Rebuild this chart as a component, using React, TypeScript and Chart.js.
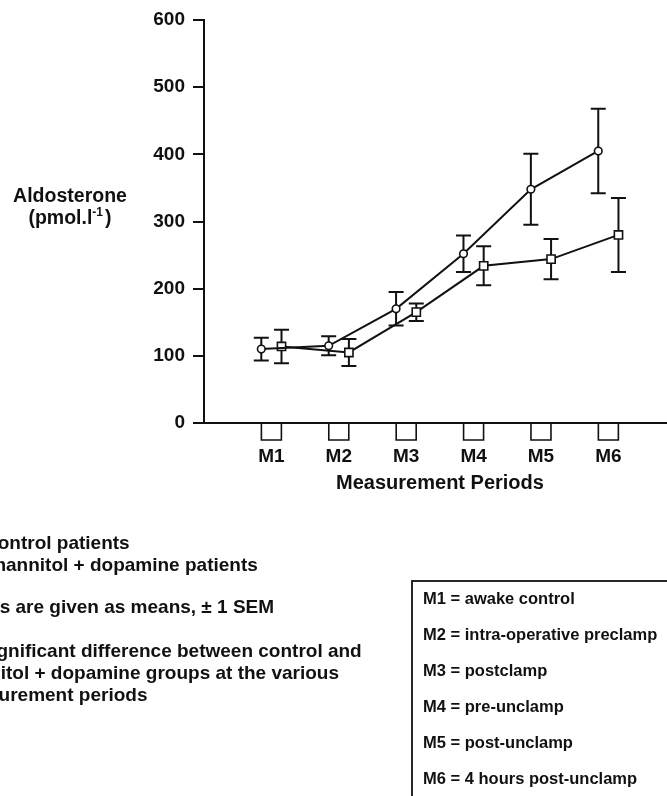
import { useEffect, useRef } from "react";
import { Chart, registerables } from "chart.js";

Chart.register(...registerables);

// Measurement periods on the x axis
const periods = ["M1", "M2", "M3", "M4", "M5", "M6"];

// Aldosterone (pmol/l), mean and ±1 SEM per period
const controlMean = [110, 115, 170, 252, 348, 405];
const controlSem = [17, 14, 25, 27, 53, 63];
const mannitolMean = [114, 105, 165, 234, 244, 280];
const mannitolSem = [25, 20, 13, 29, 30, 55];

// y axis range
const yMin = 0;
const yMax = 600;
const yStep = 100;

// Footnotes under the chart
const footnotes = [
  "○ = control patients",
  "□ = mannitol + dopamine patients",
  "",
  "Values are given as means, ± 1 SEM",
  "",
  "No significant difference between control and",
  "mannitol + dopamine groups at the various",
  "measurement periods",
];

// Key to the measurement periods
const periodKey = [
  "M1 = awake control",
  "M2 = intra-operative preclamp",
  "M3 = postclamp",
  "M4 = pre-unclamp",
  "M5 = post-unclamp",
  "M6 = 4 hours post-unclamp",
];

// horizontal shift of the two groups around each period (in period units)
const GROUP_SHIFT = 0.15;

const INK = "#111";
const FONT = "'Liberation Sans', Arial, Helvetica, sans-serif";

const errorBarsPlugin = {
  id: "errorBars",
  beforeDatasetsDraw(chart: any) {
    const { ctx } = chart;
    const yScale = chart.scales.y;
    const sems = [controlSem, mannitolSem];
    const means = [controlMean, mannitolMean];
    ctx.save();
    ctx.strokeStyle = INK;
    ctx.lineWidth = 2;
    [0, 1].forEach((di) => {
      const meta = chart.getDatasetMeta(di);
      meta.data.forEach((pt: any, i: number) => {
        const x = pt.x;
        const yTop = yScale.getPixelForValue(means[di][i] + sems[di][i]);
        const yBot = yScale.getPixelForValue(means[di][i] - sems[di][i]);
        const cap = 7.5;
        ctx.beginPath();
        ctx.moveTo(x, yTop);
        ctx.lineTo(x, yBot);
        ctx.moveTo(x - cap, yTop);
        ctx.lineTo(x + cap, yTop);
        ctx.moveTo(x - cap, yBot);
        ctx.lineTo(x + cap, yBot);
        ctx.stroke();
      });
    });
    ctx.restore();
  },
};

const annotationsPlugin = {
  id: "annotations",
  afterDraw(chart: any) {
    const { ctx, chartArea } = chart;
    const xScale = chart.scales.x;
    ctx.save();
    ctx.strokeStyle = INK;
    ctx.fillStyle = INK;

    // open boxes marking each period below the x axis
    ctx.lineWidth = 1.6;
    periods.forEach((_, i) => {
      const x = xScale.getPixelForValue(i + 1);
      const y0 = chartArea.bottom;
      ctx.beginPath();
      ctx.moveTo(x - 10, y0);
      ctx.lineTo(x - 10, y0 + 17);
      ctx.lineTo(x + 10, y0 + 17);
      ctx.lineTo(x + 10, y0);
      ctx.stroke();
    });

    // x axis title
    ctx.textAlign = "center";
    ctx.textBaseline = "middle";
    ctx.font = `bold 20px ${FONT}`;
    ctx.fillText("Measurement Periods", 440, 483);

    // y axis title, two lines with a superscript
    ctx.font = `bold 19.5px ${FONT}`;
    ctx.fillText("Aldosterone", 70, 197);
    const main = "(pmol.l";
    const sup = "-1";
    const close = ")";
    const wMain = ctx.measureText(main).width;
    const wClose = ctx.measureText(close).width;
    ctx.font = `bold 12px ${FONT}`;
    const wSup = ctx.measureText(sup).width;
    const total = wMain + wSup + 2 + wClose;
    let cx = 70 - total / 2;
    ctx.textAlign = "left";
    ctx.font = `bold 19.5px ${FONT}`;
    ctx.fillText(main, cx, 219);
    cx += wMain;
    ctx.font = `bold 12px ${FONT}`;
    ctx.fillText(sup, cx, 213);
    cx += wSup + 2;
    ctx.font = `bold 19.5px ${FONT}`;
    ctx.fillText(close, cx, 219);

    // footnotes
    ctx.font = `bold 19px ${FONT}`;
    const noteYs = [544, 566, 587, 608, 630, 652, 674, 696];
    const noteXs = [-46, -44, -50, -50, -50, -50, -50, -50];
    footnotes.forEach((t, i) => {
      if (t) ctx.fillText(t, noteXs[i], noteYs[i]);
    });

    // period key box
    ctx.lineWidth = 1.8;
    ctx.strokeRect(412, 581, 320, 300);
    ctx.font = `bold 16.5px ${FONT}`;
    periodKey.forEach((t, i) => {
      ctx.fillText(t, 423, 599 + i * 36);
    });

    ctx.restore();
  },
};

export default function App() {
  const canvasRef = useRef<HTMLCanvasElement | null>(null);

  useEffect(() => {
    const canvas = canvasRef.current;
    if (!canvas) return;
    const chart = new Chart(canvas, {
      type: "line",
      data: {
        datasets: [
          {
            label: "control patients",
            data: controlMean.map((v, i) => ({ x: i + 1 - GROUP_SHIFT, y: v })),
            borderColor: INK,
            borderWidth: 2,
            pointStyle: "circle",
            pointRadius: 3.8,
            pointBorderWidth: 1.6,
            pointBackgroundColor: "#fff",
            pointBorderColor: INK,
            tension: 0,
          },
          {
            label: "mannitol + dopamine patients",
            data: mannitolMean.map((v, i) => ({ x: i + 1 + GROUP_SHIFT, y: v })),
            borderColor: INK,
            borderWidth: 2,
            pointStyle: "rect",
            pointRadius: 5.8,
            pointBorderWidth: 1.6,
            pointBackgroundColor: "#fff",
            pointBorderColor: INK,
            tension: 0,
          },
        ],
      },
      options: {
        animation: false,
        responsive: false,
        events: [],
        layout: { autoPadding: false, padding: { top: 20, left: 0, right: 0, bottom: 0 } },
        plugins: {
          legend: { display: false },
          tooltip: { enabled: false },
        },
        scales: {
          x: {
            type: "linear",
            min: 0,
            max: 6.87,
            afterFit: (s: any) => {
              s.height = 373;
              s.paddingLeft = 0;
              s.paddingRight = 0;
            },
            afterBuildTicks: (s: any) => {
              s.ticks = periods.map((_, i) => ({ value: i + 1 }));
            },
            grid: { display: false, drawTicks: false },
            border: { display: true, color: INK, width: 2 },
            ticks: {
              autoSkip: false,
              maxRotation: 0,
              padding: 22,
              color: INK,
              font: { family: FONT, size: 19, weight: "bold" },
              callback: (v: any) => periods[Number(v) - 1] ?? "",
            },
          },
          y: {
            min: yMin,
            max: yMax,
            afterFit: (s: any) => {
              s.width = 204;
            },
            grid: {
              drawOnChartArea: false,
              drawTicks: true,
              tickLength: 11,
              color: INK,
              lineWidth: 2,
            },
            border: { display: true, color: INK, width: 2 },
            ticks: {
              stepSize: yStep,
              padding: 8,
              color: INK,
              font: { family: FONT, size: 19, weight: "bold" },
            },
          },
        },
      },
      plugins: [errorBarsPlugin, annotationsPlugin],
    });
    return () => chart.destroy();
  }, []);

  return (
    <div style={{ position: "absolute", left: 0, top: 0, width: 667, height: 796, background: "#fff", overflow: "hidden" }}>
      <canvas ref={canvasRef} width={667} height={796} style={{ display: "block" }} />
    </div>
  );
}
